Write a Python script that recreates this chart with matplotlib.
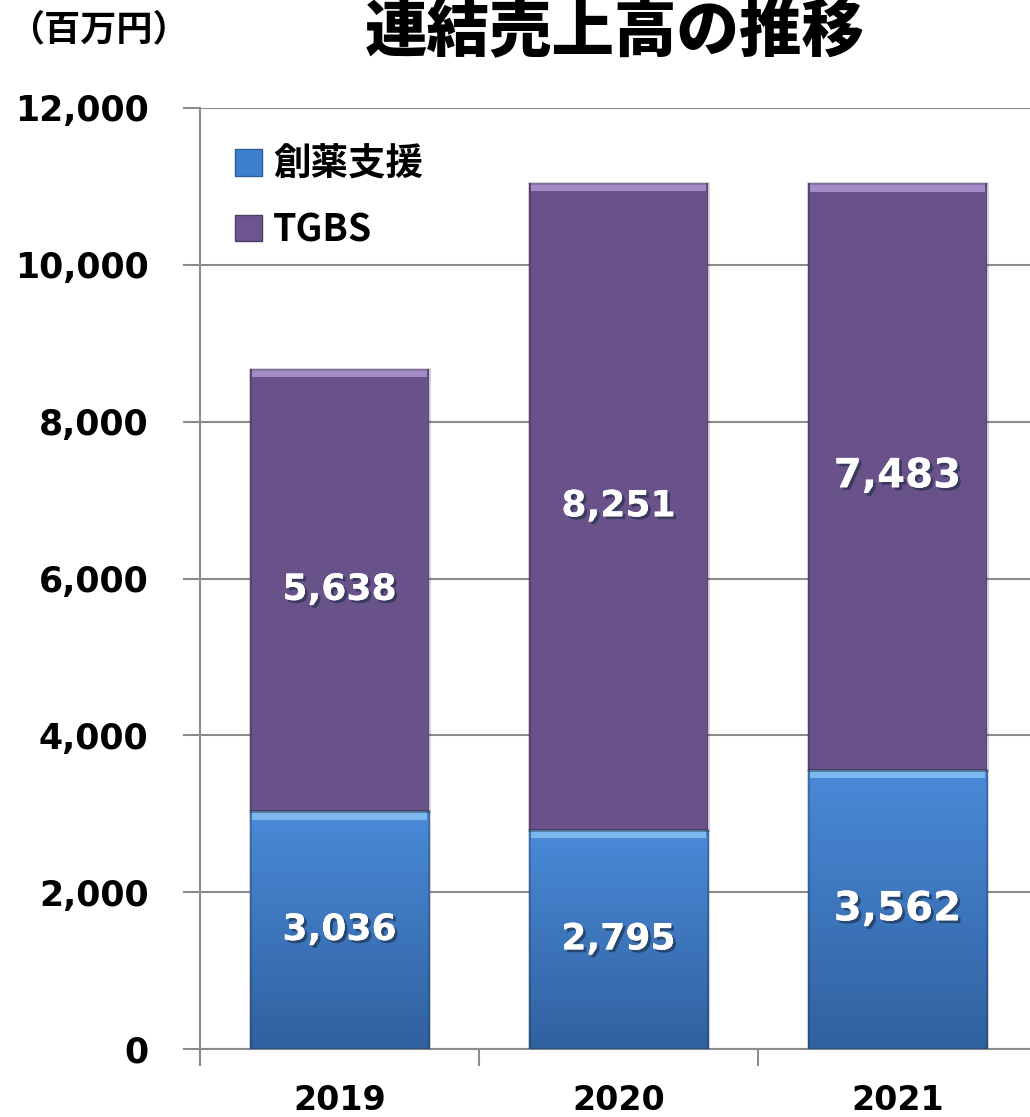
import numpy as np
import matplotlib
matplotlib.use("Agg")
import matplotlib.pyplot as plt
from matplotlib.patches import Patch
from matplotlib.font_manager import FontProperties
import matplotlib.patheffects as pe

years = ["2019", "2020", "2021"]
drug = [3036, 2795, 3562]      # 創薬支援
tgbs = [5638, 8251, 7483]      # TGBS
series_names = ["創薬支援", "TGBS"]

jp = ["Noto Sans CJK JP", "DejaVu Sans"]
blue_top, blue_bot = "#4a8ad8", "#30619f"
purple = "#69528a"

fig = plt.figure(figsize=(10.3, 11.17), dpi=100)
ax = fig.add_axes([200 / 1030, 68 / 1117, 837 / 1030, 941 / 1117])

x = np.arange(len(years))
w = 0.645
b1 = ax.bar(x, drug, w, color=blue_top, zorder=3)
b2 = ax.bar(x, tgbs, w, bottom=drug, color=purple, zorder=3)

# vertical gradient on the blue bars
grad = np.linspace(0, 1, 256).reshape(-1, 1)
cmap = matplotlib.colors.LinearSegmentedColormap.from_list("b", [blue_bot, blue_top])
for p in b1:
    x0, y0 = p.get_x(), p.get_y()
    im = ax.imshow(grad, cmap=cmap, aspect="auto", origin="lower",
                   extent=[x0, x0 + p.get_width(), y0, y0 + p.get_height()], zorder=3.5)
    im.set_clip_path(p)

# light bevel strip on top of each segment
bev = 110
tops1 = np.array(drug)
tops2 = np.array(drug) + np.array(tgbs)
ax.bar(x, bev, w * 0.97, bottom=tops1 - bev, color="#7cb8ee", zorder=4)
ax.bar(x, bev, w * 0.97, bottom=tops2 - bev, color="#a38bc6", zorder=4)
# darker side edges
for p in list(b1) + list(b2):
    ax.add_patch(plt.Rectangle((p.get_x(), p.get_y()), p.get_width(), p.get_height(),
                               fill=False, edgecolor="#00000030", lw=2, zorder=4.5))

ax.set_xlim(-0.5, 2.5)
ax.set_ylim(0, 12000)
ax.set_yticks(range(0, 12001, 2000))
ax.set_yticklabels([f"{v:,}" for v in range(0, 12001, 2000)],
                   fontsize=25, fontweight="bold", family="DejaVu Sans")
ax.set_xticks(x)
ax.set_xticklabels(years, fontsize=24, fontweight="bold")
ax.set_xticks([-0.5, 0.5, 1.5, 2.5], minor=True)
ax.tick_params(axis="x", which="major", length=0, pad=25)
ax.tick_params(axis="x", which="minor", length=12, color="#8c8c8c", width=1.5)
ax.tick_params(axis="y", length=12, color="#8c8c8c", width=1.5, pad=25)

ax.grid(axis="y", color="#8c8c8c", lw=1.5, zorder=0)
for s in ["top", "right"]:
    ax.spines[s].set_visible(False)
for s in ["left", "bottom"]:
    ax.spines[s].set_color("#8c8c8c")
    ax.spines[s].set_linewidth(1.5)

shadow = [pe.withSimplePatchShadow(offset=(2, -2), shadow_rgbFace="#1a2a40", alpha=0.6), pe.Normal()]
sizes = [26, 26, 29]
for i in range(len(years)):
    ax.text(x[i], drug[i] / 2, f"{drug[i]:,}", ha="center", va="center", color="white",
            fontsize=sizes[i], fontweight="bold", zorder=6, path_effects=shadow)
    ax.text(x[i], drug[i] + tgbs[i] / 2, f"{tgbs[i]:,}", ha="center", va="center", color="white",
            fontsize=sizes[i], fontweight="bold", zorder=6, path_effects=shadow)

handles = [Patch(facecolor="#3f7fcf", edgecolor="#2e5e98"), Patch(facecolor="#6c5590", edgecolor="#4e3d68")]
leg = ax.legend(handles, series_names, loc="upper left", bbox_to_anchor=(216 / 1030, 1 - 126 / 1117),
                bbox_transform=fig.transFigure, frameon=False, borderpad=0,
                handlelength=0.72, handleheight=0.72, handletextpad=0.3, labelspacing=0.7,
                prop=FontProperties(family=jp, weight="bold", size=27))

fig.text(615 / 1030, 1 - 1 / 1117, "連結売上高の推移", ha="center", va="top",
         fontsize=45, fontweight=900, family=jp)
fig.text(8 / 1030, 1 - 30 / 1117, "（百万円）", ha="left", va="center",
         fontsize=26, fontweight="bold", family=jp)

fig.savefig("out.png", dpi=100)
